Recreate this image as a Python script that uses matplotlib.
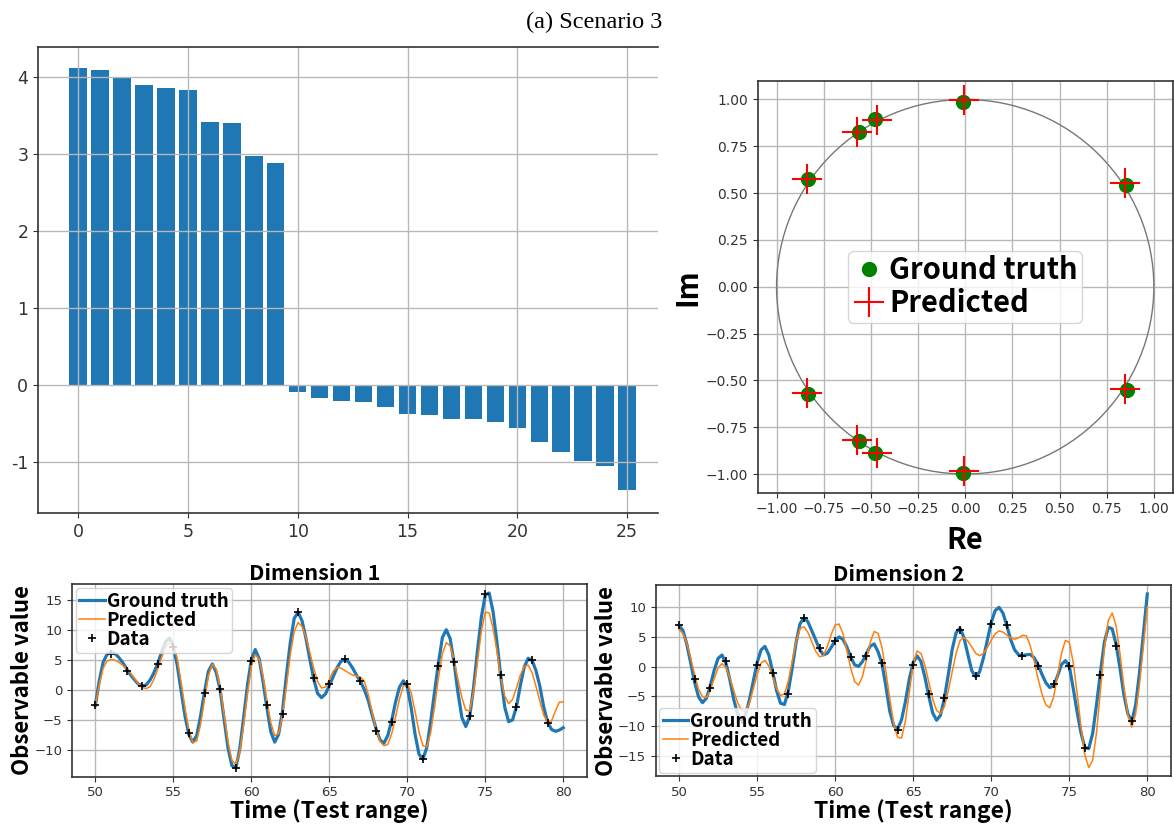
import numpy as np
import matplotlib
matplotlib.use("Agg")
import matplotlib.pyplot as plt
from matplotlib.patches import Circle
from matplotlib.ticker import FuncFormatter

# ---------------------------------------------------------------- data
# sorted bar heights
bar_values = [4.12, 4.09, 4.00, 3.90, 3.86, 3.83, 3.42, 3.40, 2.98, 2.88,
              -0.086, -0.17, -0.20, -0.22, -0.285, -0.37, -0.385, -0.445,
              -0.445, -0.48, -0.56, -0.74, -0.87, -0.99, -1.05, -1.365]

# eigenvalues in the complex plane
gt_re = [-0.014, -0.480, -0.561, -0.831, 0.855, -0.014, -0.480, -0.561, -0.831, 0.858]
gt_im = [0.985, 0.895, 0.829, 0.573, 0.546, -0.992, -0.890, -0.826, -0.571, -0.550]
pr_re = [-0.005, -0.467, -0.573, -0.838, 0.847, -0.009, -0.467, -0.573, -0.838, 0.847]
pr_im = [0.995, 0.890, 0.829, 0.576, 0.553, -0.984, -0.888, -0.820, -0.566, -0.545]

# time series, sampled every 0.25 from t = 50 to t = 80
t_start, t_stop, t_step = 50.0, 80.0, 0.25

dim1_truth = [
    -2.6, 1.5, 4.6, 5.9,
    6.3, 6.05, 5.4, 4.55,
    3.5, 2.5, 1.7, 0.95,
    0.65, 0.8, 1.6, 2.8,
    4.4, 6.3, 8.0, 8.6,
    7.25, 4.1, -0.2, -4.4,
    -7.5, -8.7, -7.6, -4.3,
    -0.3, 3.1, 4.3, 2.9,
    0.0, -4.8, -9.6, -12.6,
    -13.0, -10.0, -4.8, 0.7,
    5.0, 6.7, 5.2, 1.4,
    -3.0, -7.0, -8.7, -7.4,
    -3.5, 2.4, 7.9, 11.9,
    12.9, 11.5, 8.6, 5.1,
    1.8, -0.6, -1.3, -0.7,
    0.7, 2.2, 3.7, 4.75,
    5.05, 4.6, 3.6, 2.4,
    1.4, 0.0, -1.8, -4.2,
    -6.5, -8.3, -8.9, -7.6,
    -5.1, -2.0, 0.45, 1.5,
    0.5, -3.0, -7.4, -10.7,
    -11.55, -9.6, -5.3, -0.3,
    4.5, 8.7, 10.0, 8.5,
    4.5, -0.5, -4.6, -6.1,
    -4.5, 0.4, 6.5, 12.1,
    15.8, 16.1, 13.0, 7.9,
    2.1, -2.9, -5.3, -5.0,
    -2.8, 0.75, 3.8, 5.25,
    4.9, 3.2, 0.6, -2.9,
    -5.4, -6.6, -6.9, -6.7,
    -6.3]

dim1_pred = [
    -2.6, 0.9, 3.6, 4.8,
    5.05, 4.95, 4.6, 4.1,
    3.5, 2.8, 1.9, 1.0,
    0.4, 0.2, 0.5, 1.7,
    3.5, 5.4, 7.05, 7.9,
    7.6, 5.2, 1.2, -3.1,
    -6.8, -8.8, -8.5, -5.7,
    -1.55, 2.35, 4.25, 3.45,
    0.4, -4.1, -8.6, -11.7,
    -12.45, -10.4, -5.9, -0.7,
    3.9, 5.85, 5.1, 2.2,
    -1.8, -5.5, -7.6, -7.3,
    -4.2, 0.6, 5.9, 9.7,
    11.2, 10.55, 8.8, 6.2,
    3.6, 1.4, 0.3, 0.45,
    1.65, 3.1, 3.75, 3.6,
    3.2, 2.8, 2.45, 2.3,
    2.1, 1.4, -0.8, -3.8,
    -6.6, -8.6, -9.3, -9.1,
    -7.3, -4.5, -1.5, 0.6,
    1.1, -0.5, -3.6, -7.0,
    -9.3, -9.5, -7.1, -2.85,
    2.0, 6.0, 7.85, 7.3,
    5.0, 1.7, -1.3, -3.4,
    -3.45, -0.35, 4.7, 9.8,
    12.9, 12.8, 10.25, 6.4,
    2.05, -1.05, -2.3, -1.6,
    0.3, 2.45, 3.9, 4.1,
    2.9, 0.6, -1.9, -4.2,
    -5.4, -5.16, -3.5, -2.05,
    -2.0]

dim2_truth = [
    6.9, 6.05, 3.7, 0.55,
    -2.7, -5.1, -6.05, -5.3,
    -3.2, -0.6, 1.4, 1.95,
    0.6, -2.15, -5.5, -8.0,
    -9.0, -8.1, -5.65, -2.5,
    0.65, 2.8, 3.4, 1.95,
    -0.9, -4.05, -6.15, -6.35,
    -4.1, -0.2, 4.1, 7.2,
    8.2, 7.55, 6.05, 4.5,
    2.9, 1.97, 2.25, 3.25,
    4.4, 4.98, 4.6, 3.3,
    1.6, 0.3, 0.05, 0.85,
    2.2, 3.45, 3.8, 2.5,
    0.5, -3.3, -7.5, -9.9,
    -10.5, -8.95, -5.9, -2.1,
    0.7, 1.8, 0.85, -1.75,
    -4.95, -7.8, -9.0, -8.15,
    -5.3, -1.3, 2.9, 5.7,
    6.45, 4.9, 2.05, -0.65,
    -1.7, -0.9, 1.45, 4.45,
    7.4, 9.4, 9.95, 9.0,
    6.9, 4.5, 2.8, 2.0,
    1.85, 2.0, 2.05, 1.5,
    0.3, -1.3, -2.7, -3.5,
    -3.25, -1.55, 0.35, 1.0,
    0.1, -3.6, -7.55, -11.1,
    -13.6, -13.75, -11.2, -6.3,
    -0.9, 4.1, 6.6, 6.35,
    3.75, -0.25, -4.7, -7.9,
    -9.2, -6.5, -1.0, 5.5,
    12.2]

dim2_pred = [
    6.2, 5.6, 3.85, 1.4,
    -1.4, -3.8, -5.05, -5.2,
    -3.95, -2.0, -0.2, 0.5,
    -0.15, -1.85, -4.0, -6.05,
    -7.35, -7.45, -6.15, -3.8,
    -1.3, 0.6, 1.05, 0.1,
    -1.75, -3.7, -4.85, -4.55,
    -2.4, 0.9, 4.2, 6.4,
    6.7, 5.75, 4.2, 2.6,
    1.65, 1.85, 3.4, 5.45,
    7.0, 7.15, 5.55, 2.7,
    -0.3, -2.5, -3.1, -1.65,
    1.15, 4.1, 5.9, 5.6,
    3.2, -0.85, -5.4, -9.55,
    -11.85, -12.0, -9.15, -4.35,
    0.45, 2.65, 2.2, 0.25,
    -2.6, -5.45, -7.35, -7.9,
    -6.7, -4.05, -0.85, 2.25,
    4.35, 4.9, 4.3, 3.3,
    2.25, 1.85, 2.2, 3.2,
    4.45, 5.5, 6.0, 5.8,
    5.3, 4.8, 4.6, 4.85,
    5.25, 5.2, 3.5, 0.95,
    -2.0, -4.6, -6.4, -6.9,
    -5.05, -1.5, 2.2, 4.4,
    4.1, 0.75, -4.4, -10.05,
    -14.85, -16.95, -15.7, -11.0,
    -3.95, 3.05, 7.75, 9.0,
    6.85, 2.2, -3.3, -8.05,
    -10.15, -8.0, -3.0, 3.5,
    10.05]

# noisy observations at integer times 50..79
obs_t = list(range(50, 80))
dim1_obs = [-2.6, 6.0, 3.2, 0.6, 4.3, 7.1, -7.2, -0.6, 0.2, -13.0,
            4.8, -2.6, -4.1, 12.9, 2.0, 1.0, 5.05, 1.5, -6.8, -5.3,
            0.9, -11.5, 3.9, 4.7, -4.4, 15.9, 2.4, -2.9, 4.95, -5.5]
dim2_obs = [7.0, -2.05, -3.65, 1.0, -8.9, 0.33, -1.05, -4.55, 8.2, 3.05,
            4.3, 1.7, 1.8, 0.6, -10.6, 0.33, -4.65, -5.3, 6.15, -1.6,
            7.15, 6.95, 1.8, 0.15, -2.85, 0.15, -13.7, -1.45, 3.4, -9.1]

# ---------------------------------------------------------------- style
JP = ["Noto Sans CJK JP", "DejaVu Sans"]
BLUE, ORANGE = "#1f77b4", "#ff7f0e"
GRID = dict(color="#b8b8b8", linewidth=1.0)
TICK_COLOR = "#333333"


def style_axes(ax, labelsize):
    ax.grid(True, **GRID)
    for sp in ax.spines.values():
        sp.set_color("#333333")
        sp.set_linewidth(1.2)
    ax.tick_params(labelsize=labelsize, colors=TICK_COLOR, length=3.5)


fig = plt.figure(figsize=(11.74, 8.24), dpi=100)

fig.text(0.506, 0.973, "(a) Scenario 3", ha="center", va="center",
         family="Liberation Serif", fontsize=17.5)

# ---------------------------------------------------------------- bars
ax1 = fig.add_axes([0.0324, 0.3774, 0.528, 0.5655])
idx = np.arange(len(bar_values))
ax1.bar(idx, bar_values, width=0.8, color=BLUE)
style_axes(ax1, 12.5)
ax1.spines["right"].set_visible(False)
ax1.set_xlim(-1.82, 26.4)
ax1.set_ylim(-1.66, 4.39)
ax1.set_xticks([0, 5, 10, 15, 20, 25])
ax1.set_yticks([-1, 0, 1, 2, 3, 4])
ax1.yaxis.set_major_formatter(FuncFormatter(lambda v, p: f"{v:g}"))

# ---------------------------------------------------------------- unit circle
ax2 = fig.add_axes([0.6454, 0.402, 0.3535, 0.5])
ax2.add_patch(Circle((0, 0), 1, fill=False, edgecolor="#777777", lw=1.0, zorder=2))
ax2.plot(gt_re, gt_im, "o", color="green", ms=10, label="Ground truth", zorder=3)
ax2.plot(pr_re, pr_im, "+", color="red", ms=22, mew=1.5, label="Predicted", zorder=4)
style_axes(ax2, 10)
ticks = np.arange(-1, 1.01, 0.25)
ax2.set_xticks(ticks)
ax2.set_yticks(ticks)
ax2.set_xlim(-1.1, 1.1)
ax2.set_ylim(-1.1, 1.1)
ax2.set_xlabel("Re", family=JP, fontsize=21, fontweight="bold", labelpad=6)
ax2.set_ylabel("Im", family=JP, fontsize=21, fontweight="bold", labelpad=2)
ax2.legend(loc="center", prop=dict(family=JP, size=21, weight="bold"),
           handletextpad=0.15, handlelength=1.1, labelspacing=0.1,
           borderpad=0.15, framealpha=0.8, edgecolor="#cccccc",
           borderaxespad=0)

# ---------------------------------------------------------------- time series
t = np.arange(t_start, t_stop + t_step / 2, t_step)


def series_panel(rect, truth, pred, obs, title, legend_loc):
    ax = fig.add_axes(rect)
    ax.plot(t, truth, color=BLUE, lw=2.3, label="Ground truth")
    ax.plot(t, pred, color=ORANGE, lw=1.1, label="Predicted")
    ax.plot(obs_t, obs, "+", color="black", ms=6, mew=1.2, label="Data")
    style_axes(ax, 9.5)
    ax.set_xticks([50, 55, 60, 65, 70, 75, 80])
    ax.set_xlim(48.5, 81.5)
    ax.set_title(title, family=JP, fontsize=15.5, fontweight="bold", pad=2,
                 x=0.472)
    ax.set_xlabel("Time (Test range)", family=JP, fontsize=16.5,
                  fontweight="bold", labelpad=0)
    ax.set_ylabel("Observable value", family=JP, fontsize=16,
                  fontweight="bold", labelpad=0)
    ax.legend(loc=legend_loc, prop=dict(family=JP, size=13.5, weight="bold"),
              handletextpad=0.1, handlelength=1.35, labelspacing=0.0,
              borderpad=0.2, borderaxespad=0.2, framealpha=0.8,
              edgecolor="#cccccc")
    return ax


series_panel([0.0613, 0.0574, 0.4384, 0.2335], dim1_truth, dim1_pred,
             dim1_obs, "Dimension 1", "upper left")
series_panel([0.5585, 0.0579, 0.4387, 0.2318], dim2_truth, dim2_pred,
             dim2_obs, "Dimension 2", "lower left")

fig.savefig("out.png", dpi=100)
